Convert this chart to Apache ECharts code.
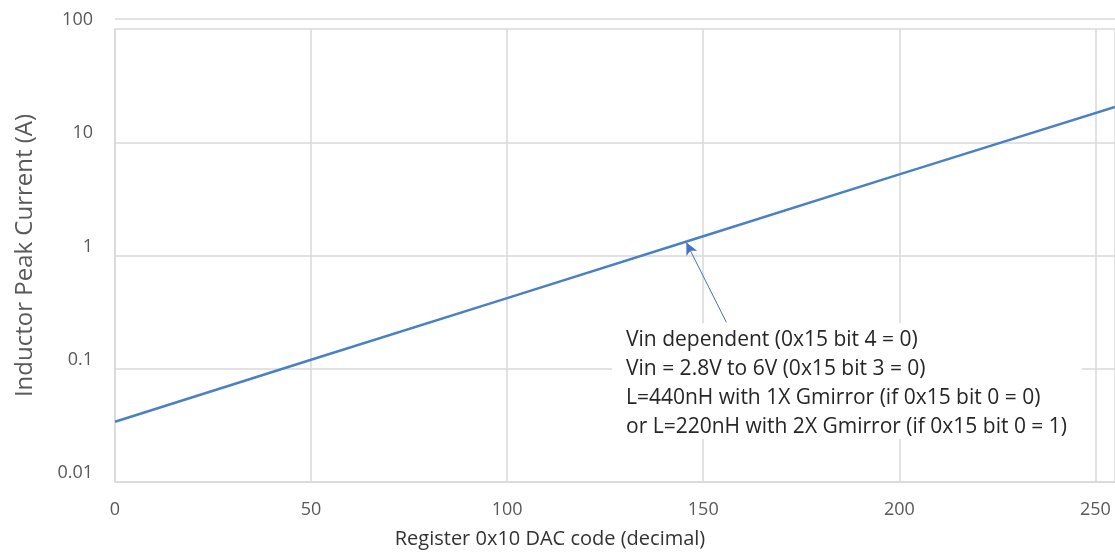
<!DOCTYPE html>
<html>
<head>
<meta charset="utf-8">
<script src="https://cdn.jsdelivr.net/npm/echarts@6/dist/echarts.min.js"></script>
<style>
    html, body { margin: 0; padding: 0; background: #fff; }
    #chart { width: 1115px; height: 554px; }
</style>
</head>
<body>
<div id="chart"></div>
<script>
    // DAC code vs inductor peak current
    var dacCodes = [0, 50, 100, 150, 200, 255];
    var peakCurrent = [0.034, 0.12, 0.42, 1.48, 5.2, 20.5];
    var xTicks = [0, 50, 100, 150, 200, 250];
    var yTicks = [0.01, 0.1, 1, 10, 100];

    // arrow from the note to the curve, in data units
    var arrowTail = [155.9, 0.257];
    var arrowTip = [145.7, 1.30];

    var noteLines = [
        'Vin dependent (0x15 bit 4 = 0)',
        'Vin = 2.8V to 6V (0x15 bit 3 = 0)',
        'L=440nH with 1X Gmirror (if 0x15 bit 0 = 0)',
        'or L=220nH with 2X Gmirror (if 0x15 bit 0 = 1)'
    ];

    var font = '"Open Sans", "Noto Sans", sans-serif';
    var gridColor = '#d9d9d9';
    var textColor = '#595959';
    var lineColor = '#4a80c4';

    var myChart = echarts.init(document.getElementById('chart'));

    var points = dacCodes.map(function (c, i) { return [c, peakCurrent[i]]; });

    var option = {
        animation: false,
        grid: { left: 115, top: 29, right: 0, bottom: 71 },
        xAxis: {
            type: 'value',
            min: 0,
            max: 255,
            interval: 50,
            name: 'Register 0x10 DAC code (decimal)',
            nameLocation: 'middle',
            nameGap: 47,
            // the original picture is cropped on the right, so the title sits left of centre
            nameTextStyle: { fontFamily: font, fontSize: 20, color: '#333', padding: [0, 130, 0, 0] },
            axisLine: { show: true, lineStyle: { color: gridColor, width: 1.5 } },
            axisTick: { show: false },
            axisLabel: {
                fontFamily: font, fontSize: 18, color: textColor, margin: 19,
                customValues: xTicks
            },
            splitLine: { show: true, lineStyle: { color: gridColor, width: 1.5 } }
        },
        yAxis: {
            type: 'log',
            logBase: 10,
            min: 0.01,
            max: 100,
            name: 'Inductor Peak Current (A)',
            nameLocation: 'middle',
            nameGap: 78,
            nameTextStyle: { fontFamily: font, fontSize: 24, color: textColor },
            axisLine: { show: true, lineStyle: { color: gridColor, width: 1.5 } },
            axisTick: { show: false },
            axisLabel: {
                fontFamily: font, fontSize: 18, color: textColor, margin: 22,
                verticalAlign: 'bottom',
                formatter: function (v) {
                    for (var i = 0; i < yTicks.length; i++) {
                        if (Math.abs(v - yTicks[i]) / yTicks[i] < 1e-6) return String(yTicks[i]);
                    }
                    return '';
                }
            },
            splitLine: { show: true, lineStyle: { color: gridColor, width: 1.5 } }
        },
        series: [{
            type: 'line',
            data: points,
            showSymbol: false,
            clip: true,
            lineStyle: { color: lineColor, width: 2.5 },
            markLine: {
                silent: true,
                symbol: ['none', 'arrow'],
                symbolSize: [9, 12],
                label: { show: false },
                lineStyle: { color: '#4472c4', width: 1, type: 'solid' },
                data: [[
                    { coord: arrowTail },
                    { coord: arrowTip }
                ]]
            }
        }],
        graphic: [
            {
                type: 'line',
                shape: { x1: 115, y1: 19, x2: 1115, y2: 19 },
                style: { stroke: gridColor, lineWidth: 1.5 }
            },
            {
                type: 'rect',
                shape: { x: 612, y: 323, width: 470, height: 116 },
                style: { fill: '#fff' },
                z: 50
            },
            {
                type: 'text',
                left: 626,
                top: 326,
                z: 51,
                style: {
                    text: noteLines.join('\n'),
                    fontFamily: font,
                    fontSize: 21,
                    lineHeight: 29,
                    fill: '#262626'
                }
            }
        ]
    };

    myChart.setOption(option);
</script>
</body>
</html>
